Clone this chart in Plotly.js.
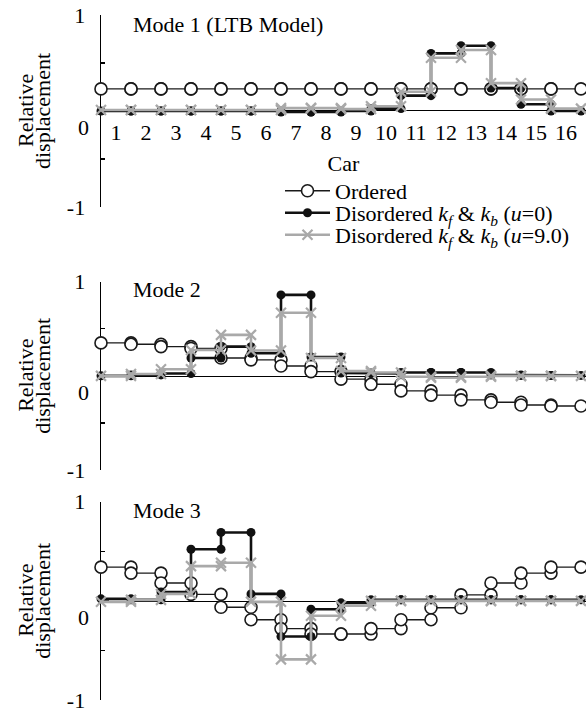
<!DOCTYPE html>
<html>
<head>
<meta charset="utf-8">
<script src="https://cdn.plot.ly/plotly-3.0.1.min.js"></script>
<style>html,body{margin:0;padding:0;background:#fff;}#chart{width:586px;height:711px;}</style>
</head>
<body>
<div id="chart"></div>
<script>
// ---- Data ----
const cars = ['1','2','3','4','5','6','7','8','9','10','11','12','13','14','15','16'];
const seriesNames = [
  'Ordered',
  'Disordered <i>k<sub>f</sub></i> &amp; <i>k<sub>b</sub></i> (<i>u</i>=0)',
  'Disordered <i>k<sub>f</sub></i> &amp; <i>k<sub>b</sub></i> (<i>u</i>=9.0)'
];
const panelTitles = ['Mode 1 (LTB Model)', 'Mode 2', 'Mode 3'];

const mode1Ordered = [0.23,0.23,0.23,0.23,0.23,0.23,0.23,0.23,0.23,0.23,0.23,0.23,0.23,0.23,0.23,0.23];
const mode1DisU0   = [0.0,0.0,0.0,0.0,0.0,0.0,-0.01,-0.01,0.0,0.025,0.16,0.60,0.68,0.24,0.07,0.0];
const mode1DisU9   = [0.01,0.01,0.01,0.01,0.01,0.01,0.03,0.03,0.02,0.05,0.20,0.555,0.635,0.29,0.12,0.025];

const mode2Ordered = [0.35,0.335,0.31,0.29,0.19,0.17,0.105,0.045,-0.035,-0.09,-0.16,-0.205,-0.255,-0.28,-0.31,-0.32];
const mode2DisU0   = [0.0,0.01,0.025,0.19,0.31,0.24,0.86,0.20,0.03,0.025,0.035,0.035,0.035,0.01,0.005,0.005];
const mode2DisU9   = [0.0,0.02,0.07,0.275,0.435,0.27,0.67,0.19,0.05,0.035,-0.01,-0.02,-0.01,0.0,0.0,0.0];

const mode3Ordered = [0.34,0.28,0.18,0.065,-0.065,-0.19,-0.28,-0.335,-0.335,-0.28,-0.19,-0.07,0.06,0.18,0.28,0.34];
const mode3DisU0   = [0.02,0.01,0.09,0.52,0.69,0.07,-0.36,-0.085,-0.02,0.01,0.01,0.01,0.01,0.01,0.01,0.01];
const mode3DisU9   = [-0.01,0.01,0.07,0.35,0.385,-0.01,-0.59,-0.15,-0.05,0.0,0.0,0.0,0.0,0.0,0.0,0.0];

// ---- Helpers ----
const W = 586, H = 711;
const PX = p => p / W;
const PY = p => 1 - p / H;
function stepXY(vals){
  const x = [], y = [];
  vals.forEach((v, i) => { x.push(i, i + 1); y.push(v, v); });
  return {x, y};
}
const FONT = '"Liberation Serif", "Times New Roman", Times, serif';

const styles = [
  {line:{color:'#1a1a1a', width:1.4}, marker:{symbol:'circle', size:12, color:'#ffffff', line:{color:'#1a1a1a', width:1.6}}},
  {line:{color:'#111111', width:2.6}, marker:{symbol:'circle', size:9, color:'#111111', line:{width:0}}},
  {line:{color:'#a9a9a9', width:2.6}, marker:{symbol:'x-thin', size:10, color:'#a9a9a9', line:{color:'#a9a9a9', width:2.2}}}
];

const panels = [
  {data:[mode1Ordered, mode1DisU0, mode1DisU9], top:15, bottom:207, zero:110},
  {data:[mode2Ordered, mode2DisU0, mode2DisU9], top:281.7, bottom:470, zero:375.9},
  {data:[mode3Ordered, mode3DisU0, mode3DisU9], top:501.7, bottom:700, zero:600.8}
];

const traces = [];
const legendIds = ['legend','legend2','legend3'];
panels.forEach((p, pi) => {
  const xa = pi === 0 ? 'x' : 'x' + (pi + 1);
  const ya = pi === 0 ? 'y' : 'y' + (pi + 1);
  p.data.forEach((vals, si) => {
    const s = stepXY(vals);
    traces.push({
      type:'scatter', mode:'lines+markers', x:s.x, y:s.y, xaxis:xa, yaxis:ya,
      name: seriesNames[si], line: styles[si].line, marker: styles[si].marker,
      cliponaxis:false, showlegend: pi === 0, legend: legendIds[si], hoverinfo:'skip'
    });
  });
});

const layout = {
  width:W, height:H, margin:{l:0, r:0, t:0, b:0},
  paper_bgcolor:'#ffffff', plot_bgcolor:'rgba(0,0,0,0)',
  font:{family:FONT, size:22, color:'#000'},
  annotations:[], showlegend:true
};

const legendRows = [191, 213, 235];
legendIds.forEach((id, i) => {
  layout[id] = {
    x: PX(280), y: PY(legendRows[i]), xanchor:'left', yanchor:'middle',
    bgcolor:'rgba(0,0,0,0)', borderwidth:0, font:{family:FONT, size:22, color:'#000'},
    itemwidth:45, tracegroupgap:0
  };
});

panels.forEach((p, pi) => {
  const xk = pi === 0 ? 'xaxis' : 'xaxis' + (pi + 1);
  const yk = pi === 0 ? 'yaxis' : 'yaxis' + (pi + 1);
  const xa = pi === 0 ? 'x' : 'x' + (pi + 1);
  const ya = pi === 0 ? 'y' : 'y' + (pi + 1);
  layout[xk] = {
    domain:[PX(101), 1], range:[0, (W - 101) / 30], anchor:'free', position: PY(p.zero),
    showline:true, linecolor:'#000', linewidth:1, showgrid:false, zeroline:false,
    ticks:'', layer:'below traces', fixedrange:true,
    tickmode:'array', tickvals: cars.map((c, i) => i + 0.5), ticktext: cars,
    showticklabels: pi === 0, ticklabelstandoff: 3,
    tickfont:{family:FONT, size:22, color:'#000'}
  };
  if (pi === 0) {
    layout[xk].title = {text:'Car', font:{family:FONT, size:22, color:'#000'}, standoff:11};
  }
  layout[yk] = {
    domain:[PY(p.bottom), PY(p.top)], range:[-1, 1], anchor:xa,
    showline:true, linecolor:'#000', linewidth:1.4, showgrid:false, zeroline:false,
    tickmode:'array', tickvals:[-1, 0, 1], ticktext:['-1', '', '1'],
    ticks:'inside', ticklen:8, tickwidth:1.4, tickcolor:'#000',
    minor:{tickmode:'array', tickvals:[-0.5, 0.5], ticks:'inside', ticklen:4, tickwidth:1.4, tickcolor:'#000'},
    ticklabelstandoff: 10, ticklabeloverflow:'allow', layer:'below traces', fixedrange:true,
    tickfont:{family:FONT, size:22, color:'#000'}
  };
  // "0" label sits below the zero line in the reference
  layout.annotations.push({
    xref:'paper', yref:ya, x:PX(91), y:0, xanchor:'right', yanchor:'middle', yshift:-17,
    text:'0', showarrow:false, font:{family:FONT, size:22, color:'#000'}
  });
  // panel title
  const tcy = [25, 289, 511][pi];
  layout.annotations.push({
    xref:'paper', yref:'paper', x:PX(131), y:PY(tcy), xanchor:'left', yanchor:'middle',
    text: panelTitles[pi], showarrow:false, font:{family:FONT, size:22, color:'#000'}
  });
  // y-axis title (two tight lines)
  const cy = (p.top + p.bottom) / 2;
  layout.annotations.push({
    xref:'paper', yref:'paper', x:PX(26), y:PY(cy), xanchor:'center', yanchor:'middle',
    text:'Relative', textangle:-90, showarrow:false, font:{family:FONT, size:22, color:'#000'}
  });
  layout.annotations.push({
    xref:'paper', yref:'paper', x:PX(43), y:PY(cy), xanchor:'center', yanchor:'middle',
    text:'displacement', textangle:-90, showarrow:false, font:{family:FONT, size:22, color:'#000'}
  });
});

Plotly.newPlot('chart', traces, layout, {staticPlot:true, displayModeBar:false});
</script>
</body>
</html>
